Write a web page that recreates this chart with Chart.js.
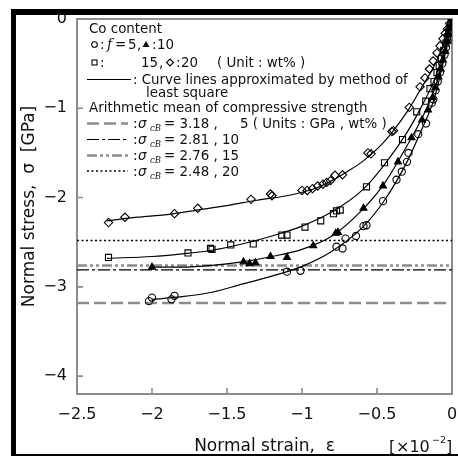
<!DOCTYPE html>
<html><head><meta charset="utf-8">
<script src="https://cdn.jsdelivr.net/npm/chart.js@4.4.1/dist/chart.umd.min.js"></script>
<style>html,body{margin:0;padding:0;background:#fff;}canvas{display:block;}</style>
</head><body>
<canvas id="c" width="458" height="457"></canvas>
<script>
// ---- axis ticks ----
const xTicks = [-2.5, -2, -1.5, -1, -0.5, 0];
const yTicks = [0, -1, -2, -3, -4];
// ---- arithmetic mean of compressive strength (GPa) per Co content (wt%) ----
const coContent = [5, 10, 15, 20];
const meanStrength = [3.18, 2.81, 2.76, 2.48];

// ---- measured points (strain x10^-2, stress GPa) ----
const co5X = [-2.02,-2.0,-1.87,-1.85,-1.10,-1.01,-0.77,-0.73,-0.71,-0.64,-0.59,-0.57,-0.46,-0.37,-0.335,-0.30,-0.29,-0.225,-0.173,-0.135,-0.124,-0.11,-0.095,-0.08,-0.065,-0.05,-0.04,-0.03,-0.02,-0.012,-0.005,0];
const co5Y = [-3.16,-3.12,-3.14,-3.10,-2.83,-2.82,-2.55,-2.57,-2.46,-2.43,-2.32,-2.31,-2.04,-1.80,-1.71,-1.60,-1.50,-1.29,-1.17,-0.94,-0.90,-0.80,-0.70,-0.60,-0.50,-0.40,-0.32,-0.24,-0.16,-0.09,-0.04,0];
const co10X = [-2.0,-1.39,-1.35,-1.31,-1.21,-1.10,-0.925,-0.775,-0.76,-0.59,-0.46,-0.36,-0.27,-0.20,-0.16,-0.13,-0.11,-0.09,-0.075,-0.06,-0.045,-0.03,-0.02,-0.01,0];
const co10Y = [-2.78,-2.72,-2.74,-2.73,-2.66,-2.67,-2.54,-2.40,-2.39,-2.12,-1.87,-1.60,-1.33,-1.13,-1.02,-0.88,-0.77,-0.65,-0.56,-0.46,-0.36,-0.25,-0.17,-0.09,0];
const co15X = [-2.29,-1.76,-1.61,-1.60,-1.475,-1.325,-1.135,-1.10,-0.98,-0.875,-0.79,-0.77,-0.745,-0.57,-0.45,-0.33,-0.235,-0.175,-0.147,-0.12,-0.10,-0.085,-0.07,-0.055,-0.04,-0.03,-0.02,-0.01,0];
const co15Y = [-2.67,-2.62,-2.57,-2.58,-2.53,-2.52,-2.42,-2.42,-2.33,-2.26,-2.18,-2.15,-2.14,-1.88,-1.61,-1.35,-1.04,-0.92,-0.78,-0.70,-0.60,-0.52,-0.44,-0.35,-0.27,-0.20,-0.14,-0.07,0];
const co20X = [-2.29,-2.18,-1.85,-1.695,-1.34,-1.21,-1.20,-1.00,-0.965,-0.93,-0.895,-0.86,-0.835,-0.81,-0.78,-0.73,-0.56,-0.54,-0.40,-0.39,-0.285,-0.213,-0.18,-0.15,-0.125,-0.10,-0.08,-0.06,-0.045,-0.03,-0.015,0];
const co20Y = [-2.28,-2.22,-2.18,-2.12,-2.02,-1.96,-1.98,-1.92,-1.92,-1.90,-1.87,-1.85,-1.83,-1.81,-1.75,-1.745,-1.50,-1.51,-1.26,-1.25,-0.99,-0.76,-0.66,-0.56,-0.47,-0.38,-0.30,-0.22,-0.16,-0.11,-0.05,0];

// ---- least-square curve lines ----
const fit5X = [-2.0,-1.8,-1.6,-1.4,-1.2,-1.0,-0.8,-0.6,-0.45,-0.3,-0.2,-0.12,-0.06,-0.02,0];
const fit5Y = [-3.14,-3.11,-3.06,-2.97,-2.88,-2.77,-2.60,-2.34,-2.03,-1.60,-1.23,-0.90,-0.50,-0.18,0];
const fit10X = [-2.0,-1.8,-1.6,-1.4,-1.2,-1.0,-0.8,-0.6,-0.45,-0.3,-0.2,-0.12,-0.06,-0.02,0];
const fit10Y = [-2.78,-2.78,-2.76,-2.72,-2.66,-2.58,-2.43,-2.14,-1.84,-1.42,-1.11,-0.80,-0.46,-0.17,0];
const fit15X = [-2.3,-2.0,-1.8,-1.6,-1.4,-1.2,-1.0,-0.8,-0.6,-0.45,-0.3,-0.2,-0.12,-0.06,-0.02,0];
const fit15Y = [-2.68,-2.66,-2.63,-2.59,-2.52,-2.43,-2.32,-2.16,-1.92,-1.63,-1.27,-0.97,-0.69,-0.40,-0.15,0];
const fit20X = [-2.3,-2.1,-1.9,-1.7,-1.5,-1.3,-1.1,-1.0,-0.9,-0.8,-0.7,-0.6,-0.45,-0.3,-0.2,-0.12,-0.06,-0.02,0];
const fit20Y = [-2.26,-2.22,-2.19,-2.14,-2.09,-2.03,-1.98,-1.94,-1.89,-1.81,-1.71,-1.60,-1.37,-1.04,-0.76,-0.53,-0.30,-0.10,0];

const pts = (xs, ys) => xs.map((x, i) => ({x, y: ys[i]}));
const GRAY = '#8c8c8c';
const meanStyles = [
  {color: GRAY, width: 2.5, dash: [12, 5]},
  {color: '#000', width: 1.2, dash: [12, 3, 3, 3]},
  {color: GRAY, width: 2.5, dash: [10, 3, 3, 3, 3, 3]},
  {color: '#000', width: 1.5, dash: [2, 2.5]}
];
const markerDefs = [
  {xs: co5X, ys: co5Y, style: 'circle', r: 3.6, fill: 'rgba(0,0,0,0)'},
  {xs: co10X, ys: co10Y, style: 'triangle', r: 4, fill: '#000'},
  {xs: co15X, ys: co15Y, style: 'rect', r: 4.3, fill: 'rgba(0,0,0,0)'},
  {xs: co20X, ys: co20Y, style: 'rectRot', r: 4.2, fill: 'rgba(0,0,0,0)'}
];
const fits = [[fit5X, fit5Y], [fit10X, fit10Y], [fit15X, fit15Y], [fit20X, fit20Y]];

const datasets = [];
markerDefs.forEach((m, i) => datasets.push({
  label: 'Co ' + coContent[i], data: pts(m.xs, m.ys), showLine: false,
  pointStyle: m.style, pointRadius: m.r, pointBorderWidth: 1.1,
  pointBorderColor: '#000', pointBackgroundColor: m.fill
}));
fits.forEach((f, i) => datasets.push({
  label: 'fit ' + coContent[i], data: pts(f[0], f[1]), showLine: true,
  borderColor: '#000', borderWidth: 1.2, pointRadius: 0, cubicInterpolationMode: 'monotone'
}));
meanStrength.forEach((s, i) => datasets.push({
  label: 'mean ' + coContent[i], data: [{x: xTicks[0], y: -s}, {x: xTicks[xTicks.length - 1], y: -s}],
  showLine: true, borderColor: meanStyles[i].color, borderWidth: meanStyles[i].width,
  borderDash: meanStyles[i].dash, pointRadius: 0
}));

const fmt = v => (v < 0 ? '\u2212' : '') + Math.abs(v);
const F = '"DejaVu Sans", sans-serif';

const framePlugin = {
  id: 'framePlugin',
  beforeDatasetsDraw(chart) {
    const {ctx, chartArea: a, scales: {x, y}} = chart;
    ctx.save();
    ctx.strokeStyle = GRAY; ctx.lineWidth = 2;
    ctx.strokeRect(a.left, a.top, a.right - a.left, a.bottom - a.top);
    ctx.lineWidth = 1.6; ctx.beginPath();
    xTicks.forEach(v => { const p = x.getPixelForValue(v); ctx.moveTo(p, a.bottom); ctx.lineTo(p, a.bottom - 6); });
    yTicks.forEach(v => { const p = y.getPixelForValue(v); ctx.moveTo(a.left, p); ctx.lineTo(a.left + 6, p); });
    ctx.stroke();
    ctx.restore();
  }
};

function T(ctx, s, x, y, font) { ctx.font = font || ('13.4px ' + F); ctx.fillText(s, x, y); }
function sample(ctx, x0, x1, y, st) {
  ctx.save(); ctx.strokeStyle = st.color; ctx.lineWidth = st.width; ctx.setLineDash(st.dash);
  ctx.beginPath(); ctx.moveTo(x0, y); ctx.lineTo(x1, y); ctx.stroke(); ctx.restore();
}
const legendPlugin = {
  id: 'legendPlugin',
  afterDraw(chart) {
    const ctx = chart.ctx;
    ctx.save();
    ctx.fillStyle = '#111'; ctx.textBaseline = 'alphabetic'; ctx.textAlign = 'left';
    T(ctx, 'Co content', 89, 33);
    // row 2
    ctx.strokeStyle = '#000'; ctx.lineWidth = 1.1;
    ctx.beginPath(); ctx.arc(94.5, 44.5, 2.8, 0, Math.PI * 2); ctx.stroke();
    T(ctx, ':', 100, 49);
    T(ctx, 'f', 107, 49, 'italic 14px "DejaVu Serif", serif');
    T(ctx, '=', 115, 49);
    T(ctx, '5', 128, 49);
    T(ctx, ',', 137, 49);
    ctx.beginPath(); ctx.moveTo(146, 40.8); ctx.lineTo(149.5, 47); ctx.lineTo(142.5, 47); ctx.closePath(); ctx.fill();
    T(ctx, ':', 152, 49);
    T(ctx, '10', 157, 49);
    // row 3
    ctx.strokeRect(92, 60, 5, 5);
    T(ctx, ':', 100, 67);
    T(ctx, '15', 141, 67);
    T(ctx, ',', 159, 67);
    ctx.beginPath(); ctx.moveTo(170, 59); ctx.lineTo(173.5, 62.5); ctx.lineTo(170, 66); ctx.lineTo(166.5, 62.5); ctx.closePath(); ctx.stroke();
    T(ctx, ':', 176, 67);
    T(ctx, '20', 181, 67);
    T(ctx, '( Unit : wt% )', 217, 67);
    // row 4/5
    sample(ctx, 87, 131, 79.5, {color: '#000', width: 1.2, dash: []});
    T(ctx, ': Curve lines approximated by method of', 133, 84);
    T(ctx, 'least square', 146, 97);
    T(ctx, 'Arithmetic mean of compressive strength', 89, 112);
    const base = [128, 144, 160, 175.5];
    const tails = ['= 3.18 ,', '= 2.81 , 10', '= 2.76 , 15', '= 2.48 , 20'];
    base.forEach((b, i) => {
      sample(ctx, 87, 128, b - 4.5, meanStyles[i]);
      T(ctx, ':', 133, b);
      T(ctx, '\u03c3', 138, b, 'italic 13.4px ' + F);
      T(ctx, 'cB', 150, b + 3, 'italic 8.5px "DejaVu Serif", serif');
      T(ctx, tails[i], 164, b);
    });
    T(ctx, '5 ( Units : GPa , wt% )', 240, 128);
    // unit label of x axis
    T(ctx, '[', 389, 452, '16px ' + F);
    T(ctx, '\u00d710', 396, 452, '16px ' + F);
    T(ctx, '\u22122', 432, 443, '9.5px ' + F);
    T(ctx, ']', 446, 452, '16px ' + F);
    // scan border
    ctx.fillStyle = '#000';
    ctx.fillRect(11, 9, 447, 6);
    ctx.fillRect(11, 9, 5, 447);
    ctx.fillRect(11, 454, 447, 2);
    ctx.restore();
  }
};

new Chart(document.getElementById('c'), {
  type: 'scatter',
  data: {datasets},
  options: {
    responsive: false, animation: false, devicePixelRatio: 1,
    layout: {padding: {left: 0, top: 19, right: 6, bottom: 0}},
    plugins: {legend: {display: false}, tooltip: {enabled: false}},
    scales: {
      x: {
        type: 'linear', min: xTicks[0], max: xTicks[xTicks.length - 1],
        afterBuildTicks: s => { s.ticks = xTicks.map(v => ({value: v})); },
        afterFit: s => { s.height = 63; s.paddingLeft = 0; s.paddingRight = 0; },
        grid: {display: false, drawTicks: false}, border: {display: false},
        ticks: {padding: 11, color: '#111', font: {family: F, size: 16}, callback: v => fmt(v), maxRotation: 0, autoSkip: false},
        title: {display: true, text: 'Normal strain,  \u03b5', color: '#111', font: {family: F, size: 17}, padding: {top: 0, bottom: 0}}
      },
      y: {
        type: 'linear', min: -4.2, max: 0,
        afterBuildTicks: s => { s.ticks = yTicks.map(v => ({value: v})); },
        afterFit: s => { s.width = 77; s.paddingTop = 0; s.paddingBottom = 0; },
        grid: {display: false, drawTicks: false}, border: {display: false},
        ticks: {padding: 10, color: '#111', font: {family: F, size: 16}, callback: v => fmt(v), autoSkip: false},
        title: {display: true, text: 'Normal stress,  \u03c3  [GPa]', color: '#111', font: {family: F, size: 17}, padding: {top: 19, bottom: 0}}
      }
    }
  },
  plugins: [framePlugin, legendPlugin]
});
</script>
</body></html>
